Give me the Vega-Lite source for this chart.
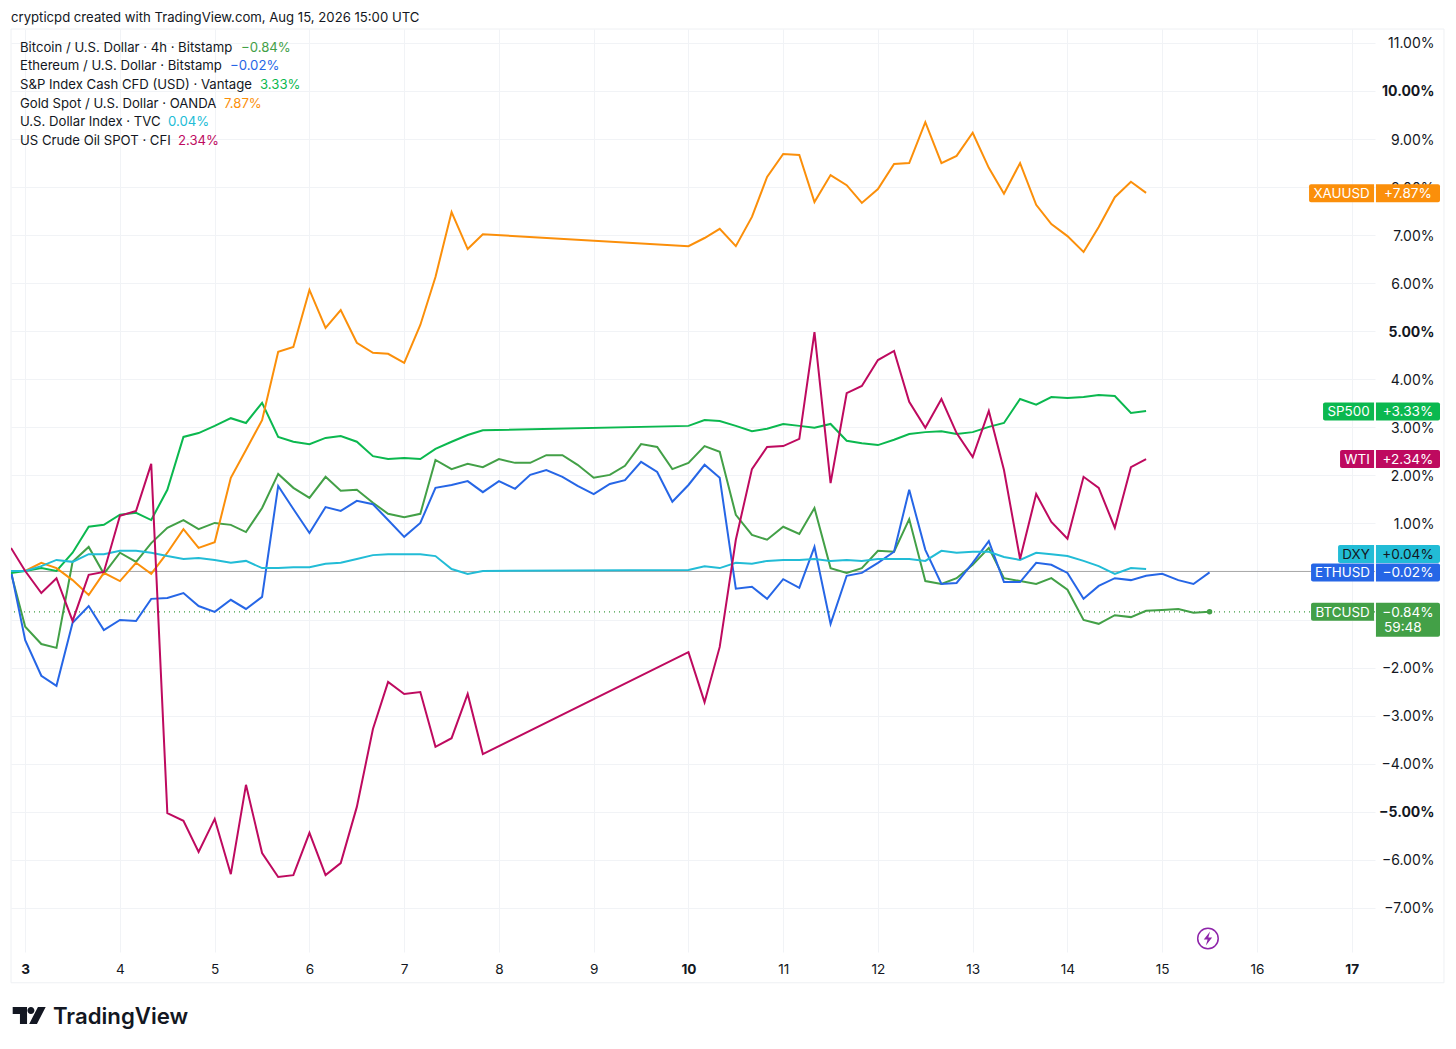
{
"$schema":"https://vega.github.io/schema/vega-lite/v6.json",
"width":1364,"height":923,
"autosize":{"type":"none"},
"padding":{"left":11,"top":29,"right":81,"bottom":97},
"background":"white",
"config":{"view":{"stroke":null},"text":{"font":"Inter","fontSize":13.15,"color":"#131722","dy":1}},
"data":{"values":[{"note":"frame"}]},
"datasets":{
"prices":[
{"day":2.85,"BTCUSD":-0.03,"ETHUSD":0.01,"SP500":-0.03,"XAUUSD":0.01,"DXY":0.01,"WTI":0.49},
{"day":3,"BTCUSD":-1.15,"ETHUSD":-1.43,"SP500":0.01,"XAUUSD":0.01,"DXY":0.01,"WTI":0.01},
{"day":3.17,"BTCUSD":-1.51,"ETHUSD":-2.17,"SP500":0.07,"XAUUSD":0.18,"DXY":0.11,"WTI":-0.45},
{"day":3.33,"BTCUSD":-1.59,"ETHUSD":-2.38,"SP500":0.01,"XAUUSD":0.07,"DXY":0.24,"WTI":-0.14},
{"day":3.5,"BTCUSD":0.2,"ETHUSD":-1.07,"SP500":0.39,"XAUUSD":-0.18,"DXY":0.2,"WTI":-1.03},
{"day":3.67,"BTCUSD":0.51,"ETHUSD":-0.72,"SP500":0.93,"XAUUSD":-0.49,"DXY":0.36,"WTI":-0.07},
{"day":3.83,"BTCUSD":-0.05,"ETHUSD":-1.22,"SP500":0.97,"XAUUSD":-0.03,"DXY":0.36,"WTI":-0.01},
{"day":4,"BTCUSD":0.39,"ETHUSD":-1.01,"SP500":1.18,"XAUUSD":-0.2,"DXY":0.43,"WTI":1.16},
{"day":4.17,"BTCUSD":0.2,"ETHUSD":-1.03,"SP500":1.22,"XAUUSD":0.18,"DXY":0.43,"WTI":1.26},
{"day":4.33,"BTCUSD":0.59,"ETHUSD":-0.57,"SP500":1.07,"XAUUSD":-0.05,"DXY":0.39,"WTI":2.24},
{"day":4.5,"BTCUSD":0.91,"ETHUSD":-0.55,"SP500":1.7,"XAUUSD":0.39,"DXY":0.32,"WTI":-5.03},
{"day":4.67,"BTCUSD":1.07,"ETHUSD":-0.45,"SP500":2.8,"XAUUSD":0.88,"DXY":0.26,"WTI":-5.19},
{"day":4.83,"BTCUSD":0.88,"ETHUSD":-0.72,"SP500":2.88,"XAUUSD":0.49,"DXY":0.28,"WTI":-5.84},
{"day":5,"BTCUSD":1.01,"ETHUSD":-0.84,"SP500":3.03,"XAUUSD":0.61,"DXY":0.24,"WTI":-5.15},
{"day":5.17,"BTCUSD":0.97,"ETHUSD":-0.59,"SP500":3.19,"XAUUSD":1.95,"DXY":0.18,"WTI":-6.3},
{"day":5.33,"BTCUSD":0.82,"ETHUSD":-0.78,"SP500":3.09,"XAUUSD":2.53,"DXY":0.22,"WTI":-4.44},
{"day":5.5,"BTCUSD":1.32,"ETHUSD":-0.53,"SP500":3.51,"XAUUSD":3.15,"DXY":0.07,"WTI":-5.86},
{"day":5.67,"BTCUSD":2.03,"ETHUSD":1.78,"SP500":2.8,"XAUUSD":4.57,"DXY":0.07,"WTI":-6.36},
{"day":5.83,"BTCUSD":1.74,"ETHUSD":1.3,"SP500":2.7,"XAUUSD":4.67,"DXY":0.09,"WTI":-6.32},
{"day":6,"BTCUSD":1.53,"ETHUSD":0.8,"SP500":2.65,"XAUUSD":5.86,"DXY":0.09,"WTI":-5.44},
{"day":6.17,"BTCUSD":1.97,"ETHUSD":1.34,"SP500":2.78,"XAUUSD":5.07,"DXY":0.16,"WTI":-6.32},
{"day":6.33,"BTCUSD":1.68,"ETHUSD":1.26,"SP500":2.82,"XAUUSD":5.44,"DXY":0.18,"WTI":-6.07},
{"day":6.5,"BTCUSD":1.7,"ETHUSD":1.47,"SP500":2.7,"XAUUSD":4.76,"DXY":0.26,"WTI":-4.9},
{"day":6.67,"BTCUSD":1.43,"ETHUSD":1.4,"SP500":2.4,"XAUUSD":4.55,"DXY":0.34,"WTI":-3.28},
{"day":6.83,"BTCUSD":1.2,"ETHUSD":1.07,"SP500":2.34,"XAUUSD":4.53,"DXY":0.36,"WTI":-2.3},
{"day":7,"BTCUSD":1.13,"ETHUSD":0.72,"SP500":2.36,"XAUUSD":4.34,"DXY":0.36,"WTI":-2.55},
{"day":7.17,"BTCUSD":1.2,"ETHUSD":1.01,"SP500":2.34,"XAUUSD":5.13,"DXY":0.36,"WTI":-2.51},
{"day":7.33,"BTCUSD":2.32,"ETHUSD":1.74,"SP500":2.55,"XAUUSD":6.13,"DXY":0.32,"WTI":-3.65},
{"day":7.5,"BTCUSD":2.13,"ETHUSD":1.8,"SP500":2.7,"XAUUSD":7.48,"DXY":0.05,"WTI":-3.47},
{"day":7.67,"BTCUSD":2.24,"ETHUSD":1.88,"SP500":2.84,"XAUUSD":6.71,"DXY":-0.05,"WTI":-2.55},
{"day":7.83,"BTCUSD":2.17,"ETHUSD":1.65,"SP500":2.94,"XAUUSD":7.02,"DXY":0.01,"WTI":-3.8},
{"day":8,"BTCUSD":2.34,"ETHUSD":1.88},
{"day":8.17,"BTCUSD":2.26,"ETHUSD":1.72},
{"day":8.33,"BTCUSD":2.26,"ETHUSD":2.01},
{"day":8.5,"BTCUSD":2.42,"ETHUSD":2.11},
{"day":8.67,"BTCUSD":2.42,"ETHUSD":1.97},
{"day":8.83,"BTCUSD":2.22,"ETHUSD":1.78},
{"day":9,"BTCUSD":1.95,"ETHUSD":1.61},
{"day":9.17,"BTCUSD":2.01,"ETHUSD":1.82},
{"day":9.33,"BTCUSD":2.2,"ETHUSD":1.9},
{"day":9.5,"BTCUSD":2.65,"ETHUSD":2.28},
{"day":9.67,"BTCUSD":2.59,"ETHUSD":2.07},
{"day":9.83,"BTCUSD":2.13,"ETHUSD":1.45},
{"day":10,"BTCUSD":2.26,"ETHUSD":1.8,"SP500":3.03,"XAUUSD":6.77,"DXY":0.03,"WTI":-1.68},
{"day":10.17,"BTCUSD":2.61,"ETHUSD":2.22,"SP500":3.15,"XAUUSD":6.94,"DXY":0.11,"WTI":-2.72},
{"day":10.33,"BTCUSD":2.49,"ETHUSD":1.95,"SP500":3.13,"XAUUSD":7.13,"DXY":0.07,"WTI":-1.57},
{"day":10.5,"BTCUSD":1.18,"ETHUSD":-0.36,"SP500":3.03,"XAUUSD":6.77,"DXY":0.18,"WTI":0.66},
{"day":10.67,"BTCUSD":0.76,"ETHUSD":-0.32,"SP500":2.92,"XAUUSD":7.38,"DXY":0.16,"WTI":2.13},
{"day":10.83,"BTCUSD":0.66,"ETHUSD":-0.57,"SP500":2.97,"XAUUSD":8.21,"DXY":0.22,"WTI":2.59},
{"day":11,"BTCUSD":0.93,"ETHUSD":-0.16,"SP500":3.07,"XAUUSD":8.69,"DXY":0.24,"WTI":2.61},
{"day":11.17,"BTCUSD":0.78,"ETHUSD":-0.34,"SP500":3.03,"XAUUSD":8.67,"DXY":0.24,"WTI":2.76},
{"day":11.33,"BTCUSD":1.32,"ETHUSD":0.51,"SP500":2.99,"XAUUSD":7.69,"DXY":0.26,"WTI":4.98},
{"day":11.5,"BTCUSD":0.07,"ETHUSD":-1.09,"SP500":3.07,"XAUUSD":8.25,"DXY":0.22,"WTI":1.84},
{"day":11.67,"BTCUSD":-0.03,"ETHUSD":-0.09,"SP500":2.72,"XAUUSD":8.04,"DXY":0.24,"WTI":3.71},
{"day":11.83,"BTCUSD":0.07,"ETHUSD":-0.03,"SP500":2.67,"XAUUSD":7.67,"DXY":0.22,"WTI":3.86},
{"day":12,"BTCUSD":0.43,"ETHUSD":0.18,"SP500":2.63,"XAUUSD":7.96,"DXY":0.26,"WTI":4.4},
{"day":12.17,"BTCUSD":0.41,"ETHUSD":0.41,"SP500":2.74,"XAUUSD":8.48,"DXY":0.26,"WTI":4.59},
{"day":12.33,"BTCUSD":1.09,"ETHUSD":1.7,"SP500":2.86,"XAUUSD":8.5,"DXY":0.26,"WTI":3.53},
{"day":12.5,"BTCUSD":-0.2,"ETHUSD":0.45,"SP500":2.9,"XAUUSD":9.35,"DXY":0.22,"WTI":2.99},
{"day":12.67,"BTCUSD":-0.26,"ETHUSD":-0.26,"SP500":2.92,"XAUUSD":8.5,"DXY":0.43,"WTI":3.59},
{"day":12.83,"BTCUSD":-0.14,"ETHUSD":-0.24,"SP500":2.86,"XAUUSD":8.65,"DXY":0.39,"WTI":2.88},
{"day":13,"BTCUSD":0.14,"ETHUSD":0.18,"SP500":2.9,"XAUUSD":9.13,"DXY":0.41,"WTI":2.38},
{"day":13.17,"BTCUSD":0.49,"ETHUSD":0.63,"SP500":3.01,"XAUUSD":8.4,"DXY":0.41,"WTI":3.34},
{"day":13.33,"BTCUSD":-0.14,"ETHUSD":-0.22,"SP500":3.09,"XAUUSD":7.86,"DXY":0.3,"WTI":2.11},
{"day":13.5,"BTCUSD":-0.2,"ETHUSD":-0.22,"SP500":3.59,"XAUUSD":8.5,"DXY":0.24,"WTI":0.26},
{"day":13.67,"BTCUSD":-0.26,"ETHUSD":0.18,"SP500":3.47,"XAUUSD":7.63,"DXY":0.39,"WTI":1.61},
{"day":13.83,"BTCUSD":-0.14,"ETHUSD":0.14,"SP500":3.63,"XAUUSD":7.23,"DXY":0.36,"WTI":1.03},
{"day":14,"BTCUSD":-0.38,"ETHUSD":-0.03,"SP500":3.61,"XAUUSD":6.98,"DXY":0.32,"WTI":0.68},
{"day":14.17,"BTCUSD":-1.01,"ETHUSD":-0.57,"SP500":3.63,"XAUUSD":6.65,"DXY":0.22,"WTI":1.97},
{"day":14.33,"BTCUSD":-1.09,"ETHUSD":-0.3,"SP500":3.67,"XAUUSD":7.17,"DXY":0.11,"WTI":1.74},
{"day":14.5,"BTCUSD":-0.91,"ETHUSD":-0.14,"SP500":3.65,"XAUUSD":7.79,"DXY":-0.05,"WTI":0.91},
{"day":14.67,"BTCUSD":-0.95,"ETHUSD":-0.18,"SP500":3.3,"XAUUSD":8.11,"DXY":0.07,"WTI":2.17},
{"day":14.83,"BTCUSD":-0.82,"ETHUSD":-0.09,"SP500":3.34,"XAUUSD":7.88,"DXY":0.05,"WTI":2.34},
{"day":15,"BTCUSD":-0.8,"ETHUSD":-0.05},
{"day":15.17,"BTCUSD":-0.78,"ETHUSD":-0.18},
{"day":15.33,"BTCUSD":-0.86,"ETHUSD":-0.26},
{"day":15.5,"BTCUSD":-0.84,"ETHUSD":-0.02}
],
"latest":[
{"symbol":"XAUUSD","name":"Gold Spot / U.S. Dollar · OANDA","value":7.87,"pct":"+7.87%","legend":"7.87%"},
{"symbol":"SP500","name":"S&P Index Cash CFD (USD) · Vantage","value":3.33,"pct":"+3.33%","legend":"3.33%"},
{"symbol":"WTI","name":"US Crude Oil SPOT · CFI","value":2.34,"pct":"+2.34%","legend":"2.34%"},
{"symbol":"DXY","name":"U.S. Dollar Index · TVC","value":0.04,"pct":"+0.04%","legend":"0.04%"},
{"symbol":"ETHUSD","name":"Ethereum / U.S. Dollar · Bitstamp","value":-0.02,"pct":"−0.02%","legend":"−0.02%"},
{"symbol":"BTCUSD","name":"Bitcoin / U.S. Dollar · 4h · Bitstamp","value":-0.84,"pct":"−0.84%","legend":"−0.84%"}
]
},
"layer":[
{"mark":{"type":"rect","fill":null,"stroke":"#eef0f3","strokeWidth":1},
 "encoding":{
  "x":{"datum":2.85,"type":"quantitative","scale":{"domain":[2.85,17.246],"nice":false,"zero":false},
   "axis":{"values":[3,4,5,6,7,8,9,10,11,12,13,14,15,16,17],"title":null,"orient":"bottom","domain":false,"ticks":false,"grid":true,"gridColor":"#f1f3f6","gridWidth":1,"labelPadding":17,"labelBaseline":"middle","labelFont":"Inter","labelFontSize":13.6,"labelColor":"#131722","format":"d","labelFlush":false,"labelOverlap":false,"labelFontWeight":{"condition":{"test":"datum.value==3||datum.value==10||datum.value==17","value":"bold"},"value":"normal"}}},
  "x2":{"datum":17.974},
  "y":{"datum":11.29,"type":"quantitative","scale":{"domain":[-7.92,11.29],"nice":false,"zero":false},
   "axis":{"values":[-7,-6,-5,-4,-3,-2,-1,0,1,2,3,4,5,6,7,8,9,10,11],"title":null,"orient":"right","domain":false,"ticks":false,"grid":true,"gridColor":"#f1f3f6","gridWidth":1,"labelPadding":59,"labelAlign":"right","labelOffset":1,"labelFont":"Inter","labelFontSize":14,"labelColor":"#131722","labelOverlap":false,"labelFlush":false,"labelExpr":"datum.value==0||datum.value==-1?'':replace(format(datum.value,'.2f'),'-','−')+'%'","labelFontWeight":{"condition":{"test":"datum.value==5||datum.value==10||datum.value==-5","value":"bold"},"value":"normal"}}},
  "y2":{"datum":-8.56}
 }},
{"mark":{"type":"rule","color":"#a8a8a8","strokeWidth":1},"encoding":{"y":{"datum":0,"type":"quantitative"}}},
{"mark":{"type":"rule","color":"#3f9c43","strokeWidth":1.2,"strokeDash":[1,4]},"encoding":{"y":{"datum":-0.84,"type":"quantitative"}}},
{"data":{"name":"prices"},
 "transform":[{"fold":["BTCUSD","ETHUSD","SP500","XAUUSD","DXY","WTI"],"as":["symbol","change"]},{"filter":"isValid(datum.change)"}],
 "mark":{"type":"line","strokeWidth":2,"clip":true},
 "encoding":{
  "x":{"field":"day","type":"quantitative"},
  "y":{"field":"change","type":"quantitative"},
  "color":{"field":"symbol","type":"nominal","legend":null,"scale":{"domain":["BTCUSD","ETHUSD","SP500","XAUUSD","DXY","WTI"],"range":["#43a047","#2666e6","#0bb84f","#fb8f0a","#22bcd6","#be0a5f"]}},
  "order":{"field":"day","type":"quantitative"}
 }},
{"data":{"values":[{"day":15.5,"change":-0.84,"symbol":"BTCUSD"}]},
 "mark":{"type":"circle","size":30,"opacity":1},
 "encoding":{"x":{"field":"day","type":"quantitative"},"y":{"field":"change","type":"quantitative"},"color":{"field":"symbol","type":"nominal","legend":null}}},
{"data":{"name":"latest"},
 "transform":[
  {"calculate":"datum.symbol=='DXY'?0.364:datum.value","as":"anchor"},
  {"calculate":"datum.anchor+0.187","as":"top"},
  {"calculate":"datum.anchor-0.187","as":"bottom"},
  {"calculate":"17.236-({XAUUSD:65,SP500:51,WTI:34,DXY:36,ETHUSD:63,BTCUSD:63}[datum.symbol])/94.75","as":"left"}
 ],
 "layer":[
  {"mark":{"type":"rect","cornerRadiusTopLeft":2,"cornerRadiusBottomLeft":2,"opacity":1},
   "encoding":{"x":{"field":"left","type":"quantitative"},"x2":{"datum":17.236},"y":{"field":"top","type":"quantitative"},"y2":{"field":"bottom"},"color":{"field":"symbol","type":"nominal","legend":null}}},
  {"transform":[{"calculate":"datum.symbol=='BTCUSD'?-1.36:datum.bottom","as":"lower"}],
   "mark":{"type":"rect","cornerRadiusTopRight":2,"cornerRadiusBottomRight":2,"opacity":1},
   "encoding":{"x":{"datum":17.256,"type":"quantitative"},"x2":{"datum":17.932},"y":{"field":"top","type":"quantitative"},"y2":{"field":"lower"},"color":{"field":"symbol","type":"nominal","legend":null}}},
  {"transform":[{"calculate":"(datum.left+17.236)/2","as":"mid"}],
   "mark":{"type":"text","align":"center","baseline":"middle","fontSize":13.4},
   "encoding":{"x":{"field":"mid","type":"quantitative"},"y":{"field":"anchor","type":"quantitative"},"text":{"field":"symbol"},"color":{"condition":{"test":"datum.symbol=='DXY'","value":"#131722"},"value":"#ffffff"}}},
  {"mark":{"type":"text","align":"center","baseline":"middle","fontSize":13.6},
   "encoding":{"x":{"datum":17.594,"type":"quantitative"},"y":{"field":"anchor","type":"quantitative"},"text":{"field":"pct"},"color":{"condition":{"test":"datum.symbol=='DXY'","value":"#131722"},"value":"#ffffff"}}},
  {"transform":[{"filter":"datum.symbol=='BTCUSD'"},{"calculate":"'59:48'","as":"countdown"}],
   "mark":{"type":"text","align":"center","baseline":"middle","color":"#ffffff","fontSize":13.6},
   "encoding":{"x":{"datum":17.54,"type":"quantitative"},"y":{"datum":-1.165,"type":"quantitative"},"text":{"field":"countdown"}}},
  {"transform":[{"calculate":"10.92-indexof(['BTCUSD','ETHUSD','SP500','XAUUSD','DXY','WTI'],datum.symbol)*0.388","as":"row"}],
   "mark":{"type":"text","align":"left","baseline":"middle"},
   "encoding":{"x":{"datum":2.945,"type":"quantitative"},"y":{"field":"row","type":"quantitative"},"text":{"field":"name"}}},
  {"transform":[{"calculate":"10.92-indexof(['BTCUSD','ETHUSD','SP500','XAUUSD','DXY','WTI'],datum.symbol)*0.388","as":"row"},
    {"calculate":"3+(({BTCUSD:241,ETHUSD:230,SP500:260,XAUUSD:224,DXY:168,WTI:178}[datum.symbol])-25.2)/94.75","as":"pctx"}],
   "mark":{"type":"text","align":"left","baseline":"middle"},
   "encoding":{"x":{"field":"pctx","type":"quantitative"},"y":{"field":"row","type":"quantitative"},"text":{"field":"legend"},"color":{"field":"symbol","type":"nominal","legend":null}}}
 ]},
{"data":{"values":[{"t":"crypticpd created with TradingView.com, Aug 15, 2026 15:00 UTC"}]},
 "mark":{"type":"text","align":"left","baseline":"middle"},
 "encoding":{"x":{"datum":2.85,"type":"quantitative"},"y":{"datum":11.54,"type":"quantitative"},"text":{"field":"t"}}},
{"data":{"values":[{"t":"TradingView"}]},
 "mark":{"type":"text","align":"left","baseline":"middle","fontSize":22.2,"fontWeight":600,"color":"#131722"},
 "encoding":{"x":{"datum":3.293,"type":"quantitative"},"y":{"datum":-9.25,"type":"quantitative"},"text":{"field":"t"}}},
{"mark":{"type":"point","filled":true,"opacity":1,"color":"#131722","size":1089,"shape":"M-1,-.515H-.13V.515H-.56V-.09H-1Z M.106,-.515A.212,.212 0 1 1 .105,-.09A.212,.212 0 1 1 .106,-.515Z M.53,-.515H1L.47,.515H0Z"},
 "encoding":{"x":{"datum":3.042,"type":"quantitative"},"y":{"datum":-9.24,"type":"quantitative"}}},
{"mark":{"type":"point","filled":false,"opacity":1,"stroke":"#8e24aa","strokeWidth":1.5,"shape":"circle","size":420},
 "encoding":{"x":{"datum":15.483,"type":"quantitative"},"y":{"datum":-7.64,"type":"quantitative"}}},
{"mark":{"type":"point","filled":true,"opacity":1,"color":"#8e24aa","size":196,"shape":"M.3,-1L-.6,.15H-.05L-.3,1L.6,-.15H.05Z"},
 "encoding":{"x":{"datum":15.483,"type":"quantitative"},"y":{"datum":-7.64,"type":"quantitative"}}}
]
}
